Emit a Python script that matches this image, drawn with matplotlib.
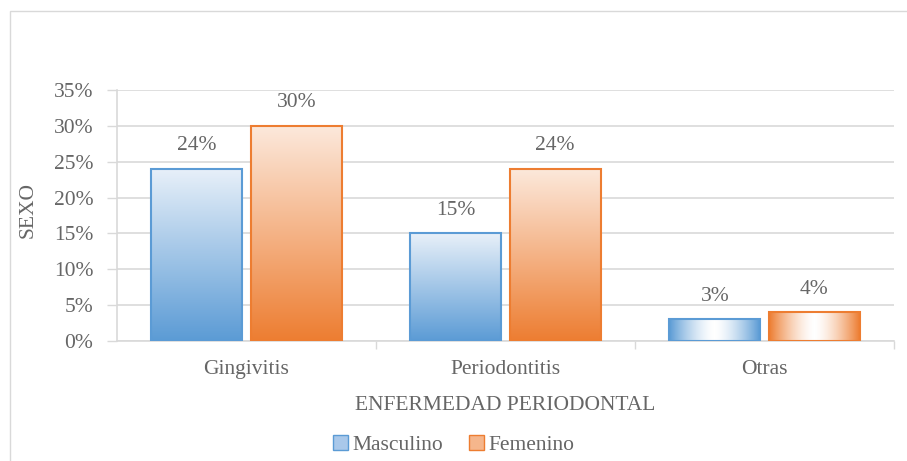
import numpy as np
import matplotlib.pyplot as plt
from matplotlib.patches import Rectangle, Patch
from matplotlib.colors import LinearSegmentedColormap

categories = ["Gingivitis", "Periodontitis", "Otras"]
masculino = [24, 15, 3]
femenino = [30, 24, 4]
series_names = ["Masculino", "Femenino"]
yticks = [0, 5, 10, 15, 20, 25, 30, 35]

blue = "#5B9BD5"
orange = "#ED7D31"
text_col = "#666666"
grid_col = "#D9D9D9"
fs = 15.5

plt.rcParams["font.family"] = ["Liberation Serif", "DejaVu Serif"]

fig = plt.figure(figsize=(9.07, 4.61), dpi=100)
ax = fig.add_axes([0.129, 0.2603, 0.8567, 0.5445])

cmap_b = LinearSegmentedColormap.from_list("b", ["#E8F0F9", blue])
cmap_o = LinearSegmentedColormap.from_list("o", ["#FCE9DC", orange])
cmap_bh = LinearSegmentedColormap.from_list("bh", ["#FFFFFF", blue])
cmap_oh = LinearSegmentedColormap.from_list("oh", ["#FFFFFF", orange])

x = np.arange(len(categories))
w = 0.35
gap = 0.034


def grad_bar(xc, h, cmap, cmap_h, edge):
    left = xc - w / 2
    rect = Rectangle((left, 0), w, h, facecolor="none", edgecolor=edge, lw=1.5, zorder=3)
    ax.add_patch(rect)
    if h >= 5:
        g = np.linspace(0, 1, 256).reshape(-1, 1)
    else:
        # the small bars carry a side-to-side gradient in the original
        g = np.abs(np.linspace(-1, 1, 256)).reshape(1, -1) ** 1.5
        cmap = cmap_h
    im = ax.imshow(g, cmap=cmap, aspect="auto", extent=(left, left + w, 0, h),
                   origin="upper", zorder=2, interpolation="bilinear", vmin=0, vmax=1)
    im.set_clip_path(rect)
    ax.text(xc, h + 1.9, f"{h}%", ha="center", va="bottom", fontsize=fs, color=text_col)


for i in range(len(categories)):
    grad_bar(x[i] - w / 2 - gap / 2, masculino[i], cmap_b, cmap_bh, blue)
    grad_bar(x[i] + w / 2 + gap / 2, femenino[i], cmap_o, cmap_oh, orange)

ax.set_xlim(-0.5, 2.5)
ax.set_ylim(0, 35)
ax.set_yticks(yticks)
ax.set_yticklabels([f"{t}%" for t in yticks])
ax.set_xticks(x)
ax.set_xticklabels(categories)
ax.set_xticks([0.5, 1.5, 2.5], minor=True)
ax.tick_params(axis="x", which="major", length=0, pad=14)
ax.tick_params(axis="x", which="minor", length=6, color=grid_col, width=1)
ax.tick_params(axis="y", length=7, color=grid_col, width=1, pad=10)
ax.tick_params(labelsize=fs, labelcolor=text_col)
ax.grid(axis="y", color=grid_col, lw=1.2, zorder=0)
ax.set_axisbelow(True)
for s in ["top", "right"]:
    ax.spines[s].set_visible(False)
ax.spines["left"].set_color(grid_col)
ax.spines["bottom"].set_color(grid_col)
ax.spines["left"].set_linewidth(1.2)
ax.spines["bottom"].set_linewidth(1.2)

ax.set_xlabel("ENFERMEDAD PERIODONTAL", fontsize=fs, color=text_col, labelpad=12)
ax.set_ylabel("SEXO", fontsize=fs, color=text_col, va="center")
ax.yaxis.set_label_coords(-0.1145, 0.52)

handles = [Patch(facecolor="#A9C8EA", edgecolor=blue), Patch(facecolor="#F5B68C", edgecolor=orange)]
fig.legend(handles, series_names, loc="center", bbox_to_anchor=(0.5, 0.035), ncol=2,
           frameon=False, fontsize=fs, labelcolor=text_col, handlelength=0.7,
           handleheight=0.7, handletextpad=0.2, columnspacing=1.2)

fig.patches.append(Rectangle((10 / 907, -0.1), 1.2, (461 - 11) / 461 + 0.1,
                             transform=fig.transFigure, fill=False, edgecolor=grid_col, lw=1))

fig.savefig("out.png", dpi=100)
